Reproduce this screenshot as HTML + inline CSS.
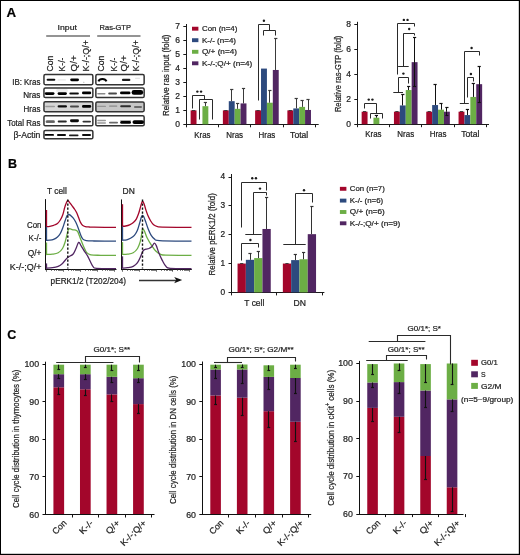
<!DOCTYPE html>
<html><head><meta charset="utf-8"><style>
html,body{margin:0;padding:0;background:#fff;overflow:hidden}
svg{display:block;will-change:transform}
text{font-family:"Liberation Sans", sans-serif;stroke:#222;stroke-width:0.22px;paint-order:stroke}
</style></head><body>
<svg width="520" height="555" viewBox="0 0 520 555" font-family='"Liberation Sans", sans-serif' fill="#222">
<rect x="0" y="0" width="520" height="555" fill="#000"/>
<rect x="1" y="1" width="517.8" height="552.8" fill="#fff"/>
<text x="6.5" y="17.2" font-size="12.5" font-weight="bold" textLength="9.6" lengthAdjust="spacingAndGlyphs" fill="#000">A</text>
<text x="8" y="167.9" font-size="12.5" font-weight="bold" fill="#000">B</text>
<text x="7.3" y="338.7" font-size="12.5" font-weight="bold" fill="#000">C</text>
<defs><filter id="bl" x="-20%" y="-100%" width="140%" height="300%"><feGaussianBlur stdDeviation="0.55"/></filter><filter id="bl2" x="-20%" y="-100%" width="140%" height="300%"><feGaussianBlur stdDeviation="0.7"/></filter></defs>
<text x="57.6" y="30.2" font-size="7.8" textLength="19.3" lengthAdjust="spacingAndGlyphs">Input</text>
<text x="99.6" y="30" font-size="7.7" textLength="31.4" lengthAdjust="spacingAndGlyphs">Ras-GTP</text>
<line x1="46.2" y1="36" x2="90" y2="36" stroke="#707070" stroke-width="1.6"/>
<line x1="97.2" y1="36" x2="140.5" y2="36" stroke="#707070" stroke-width="1.6"/>
<text x="53.4" y="71.4" font-size="8.5" textLength="15.8" lengthAdjust="spacingAndGlyphs" transform="rotate(-90 53.4 71.4)">Con</text>
<text x="64.6" y="71.4" font-size="8.5" textLength="13.8" lengthAdjust="spacingAndGlyphs" transform="rotate(-90 64.6 71.4)">K-/-</text>
<text x="76.9" y="71.4" font-size="8.5" textLength="16" lengthAdjust="spacingAndGlyphs" transform="rotate(-90 76.9 71.4)">Q/+</text>
<text x="89" y="71.4" font-size="8.5" textLength="31.2" lengthAdjust="spacingAndGlyphs" transform="rotate(-90 89 71.4)">K-/-;Q/+</text>
<text x="104.5" y="71.4" font-size="8.5" textLength="15.8" lengthAdjust="spacingAndGlyphs" transform="rotate(-90 104.5 71.4)">Con</text>
<text x="116.9" y="71.4" font-size="8.5" textLength="13.8" lengthAdjust="spacingAndGlyphs" transform="rotate(-90 116.9 71.4)">K-/-</text>
<text x="127.4" y="71.4" font-size="8.5" textLength="16" lengthAdjust="spacingAndGlyphs" transform="rotate(-90 127.4 71.4)">Q/+</text>
<text x="139.5" y="71.4" font-size="8.5" textLength="31.2" lengthAdjust="spacingAndGlyphs" transform="rotate(-90 139.5 71.4)">K-/-;Q/+</text>
<text x="40.4" y="85.1" font-size="8.3" text-anchor="end" textLength="28.2" lengthAdjust="spacingAndGlyphs">IB: Kras</text>
<text x="40.4" y="97.9" font-size="8.3" text-anchor="end" textLength="17.2" lengthAdjust="spacingAndGlyphs">Nras</text>
<text x="40.4" y="111.7" font-size="8.3" text-anchor="end" textLength="16.9" lengthAdjust="spacingAndGlyphs">Hras</text>
<text x="40.4" y="126.2" font-size="8.3" text-anchor="end" textLength="33.2" lengthAdjust="spacingAndGlyphs">Total Ras</text>
<text x="40.4" y="137.5" font-size="8.3" text-anchor="end" textLength="27" lengthAdjust="spacingAndGlyphs">β-Actin</text>
<rect x="43.95" y="74.55" width="48.9" height="10.1" rx="1.4" fill="#fff" stroke="#333" stroke-width="1.5"/>
<rect x="46.6" y="78.8" width="8.7" height="2" rx="1" fill="#111" filter="url(#bl)"/>
<rect x="57.5" y="79.2" width="8.5" height="1.4" rx="0.7" fill="#e8e8e8" filter="url(#bl)"/>
<rect x="70.2" y="78.45" width="8.8" height="2.7" rx="1.35" fill="#000" filter="url(#bl)"/>
<rect x="83" y="81.8" width="1.5" height="1" rx="0.5" fill="#bbb" filter="url(#bl)"/>
<rect x="43.95" y="88.05" width="48.9" height="9.5" rx="1.4" fill="#fff" stroke="#333" stroke-width="1.5"/>
<rect x="56" y="89.1" width="12" height="3" rx="1.5" fill="#eeeeee" filter="url(#bl2)"/>
<rect x="44.8" y="92.2" width="9.7" height="2.8" rx="1.4" fill="#000" filter="url(#bl)"/>
<rect x="57.6" y="92.3" width="9.3" height="2.6" rx="1.3" fill="#050505" filter="url(#bl)"/>
<rect x="69.3" y="92.4" width="9.6" height="2.2" rx="1.1" fill="#111" filter="url(#bl)"/>
<rect x="82" y="91.6" width="9.2" height="2.6" rx="1.3" fill="#000" filter="url(#bl)"/>
<rect x="43.95" y="101.65" width="48.9" height="10" rx="1.4" fill="#d6d6d6" stroke="#333" stroke-width="1.5"/>
<rect x="45.2" y="105.7" width="9.8" height="1.6" rx="0.8" fill="#9a9a9a" filter="url(#bl)"/>
<rect x="57.6" y="105.25" width="9.4" height="2.3" rx="1.15" fill="#111" filter="url(#bl)"/>
<rect x="70" y="105.55" width="9" height="1.9" rx="0.95" fill="#4a4a4a" filter="url(#bl)"/>
<rect x="82" y="105.1" width="9.2" height="2.6" rx="1.3" fill="#000" filter="url(#bl)"/>
<rect x="43.95" y="115.85" width="48.9" height="10" rx="1.4" fill="#fff" stroke="#333" stroke-width="1.5"/>
<rect x="45.6" y="119.9" width="9.4" height="3" rx="1.5" fill="#8a8a8a" filter="url(#bl2)"/>
<rect x="46" y="121.3" width="8.6" height="1.2" rx="0.6" fill="#555" filter="url(#bl)"/>
<rect x="57.7" y="120.6" width="9.1" height="1.8" rx="0.9" fill="#2a2a2a" filter="url(#bl)"/>
<rect x="70" y="119.35" width="9" height="2.9" rx="1.45" fill="#111" filter="url(#bl)"/>
<rect x="82.5" y="120.65" width="8.5" height="1.9" rx="0.95" fill="#333" filter="url(#bl)"/>
<rect x="43.95" y="130.45" width="48.9" height="8.4" rx="1.4" fill="#fff" stroke="#333" stroke-width="1.5"/>
<rect x="44.6" y="134" width="9.4" height="1.8" rx="0.9" fill="#000" filter="url(#bl)"/>
<rect x="57" y="134.1" width="9" height="1.8" rx="0.9" fill="#111" filter="url(#bl)"/>
<rect x="69" y="134.6" width="9.5" height="1.6" rx="0.8" fill="#1a1a1a" filter="url(#bl)"/>
<rect x="82" y="134.05" width="9" height="1.9" rx="0.95" fill="#111" filter="url(#bl)"/>
<rect x="95.85" y="74.55" width="48.3" height="10.1" rx="1.4" fill="#fff" stroke="#333" stroke-width="1.5"/>
<path d="M98.4,81.4 C99.6,78.2 105.2,78.2 106.5,81.4" fill="none" stroke="#000" stroke-width="2" filter="url(#bl)"/>
<rect x="121.9" y="78.75" width="8.5" height="2.3" rx="1.15" fill="#1c1c1c" filter="url(#bl)"/>
<rect x="135" y="77.7" width="5" height="1" rx="0.5" fill="#ddd" filter="url(#bl)"/>
<rect x="95.85" y="88.05" width="48.3" height="9.5" rx="1.4" fill="#fff" stroke="#333" stroke-width="1.5"/>
<rect x="97.2" y="93.05" width="8.3" height="1.5" rx="0.75" fill="#8a8a8a" filter="url(#bl)"/>
<rect x="108.2" y="92.4" width="8.8" height="2" rx="1" fill="#4a4a4a" filter="url(#bl)"/>
<rect x="120" y="91.45" width="10.5" height="2.9" rx="1.45" fill="#000" filter="url(#bl)"/>
<rect x="131.6" y="90.1" width="11.6" height="4.6" rx="2.3" fill="#000" filter="url(#bl)"/>
<rect x="95.85" y="102.05" width="48.3" height="9.6" rx="1.4" fill="#c6c6c6" stroke="#333" stroke-width="1.5"/>
<rect x="97.2" y="105.7" width="8.8" height="1.4" rx="0.7" fill="#959595" filter="url(#bl)"/>
<rect x="109" y="105.4" width="8.4" height="1.4" rx="0.7" fill="#8a8a8a" filter="url(#bl)"/>
<rect x="120.2" y="105.25" width="10.8" height="1.9" rx="0.95" fill="#2e2e2e" filter="url(#bl)"/>
<rect x="134" y="106.1" width="8" height="1.8" rx="0.9" fill="#6a6a6a" filter="url(#bl)"/>
<rect x="95.85" y="115.85" width="48.3" height="10" rx="1.4" fill="#fff" stroke="#333" stroke-width="1.5"/>
<rect x="97.2" y="119.85" width="8.8" height="1.3" rx="0.65" fill="#999" filter="url(#bl)"/>
<rect x="97.2" y="122.35" width="8.8" height="1.3" rx="0.65" fill="#999" filter="url(#bl)"/>
<rect x="109" y="121.75" width="9" height="1.7" rx="0.85" fill="#6a6a6a" filter="url(#bl)"/>
<rect x="120.2" y="119.9" width="10.8" height="1" rx="0.5" fill="#aaa" filter="url(#bl)"/>
<rect x="120.2" y="121.1" width="10.8" height="2.6" rx="1.3" fill="#000" filter="url(#bl)"/>
<rect x="132.5" y="120.15" width="11.5" height="3.9" rx="1.95" fill="#000" filter="url(#bl)"/>
<line x1="186.5" y1="24" x2="186.5" y2="124.8" stroke="#1a1a1a" stroke-width="1"/>
<line x1="185.8" y1="124.5" x2="318.7" y2="124.5" stroke="#1a1a1a" stroke-width="1"/>
<line x1="183.3" y1="124.5" x2="186.3" y2="124.5" stroke="#1a1a1a" stroke-width="1"/>
<text x="180.1" y="126.7" font-size="8.5" text-anchor="end">0</text>
<line x1="183.3" y1="110.5" x2="186.3" y2="110.5" stroke="#1a1a1a" stroke-width="1"/>
<text x="180.1" y="112.77" font-size="8.5" text-anchor="end">1</text>
<line x1="183.3" y1="96.5" x2="186.3" y2="96.5" stroke="#1a1a1a" stroke-width="1"/>
<text x="180.1" y="98.84" font-size="8.5" text-anchor="end">2</text>
<line x1="183.3" y1="82.5" x2="186.3" y2="82.5" stroke="#1a1a1a" stroke-width="1"/>
<text x="180.1" y="84.91" font-size="8.5" text-anchor="end">3</text>
<line x1="183.3" y1="68.5" x2="186.3" y2="68.5" stroke="#1a1a1a" stroke-width="1"/>
<text x="180.1" y="70.98" font-size="8.5" text-anchor="end">4</text>
<line x1="183.3" y1="54.5" x2="186.3" y2="54.5" stroke="#1a1a1a" stroke-width="1"/>
<text x="180.1" y="57.05" font-size="8.5" text-anchor="end">5</text>
<line x1="183.3" y1="40.5" x2="186.3" y2="40.5" stroke="#1a1a1a" stroke-width="1"/>
<text x="180.1" y="43.12" font-size="8.5" text-anchor="end">6</text>
<line x1="183.3" y1="26.5" x2="186.3" y2="26.5" stroke="#1a1a1a" stroke-width="1"/>
<text x="180.1" y="29.19" font-size="8.5" text-anchor="end">7</text>
<line x1="186.5" y1="124.3" x2="186.5" y2="127.3" stroke="#1a1a1a" stroke-width="1"/>
<line x1="218.5" y1="124.3" x2="218.5" y2="127.3" stroke="#1a1a1a" stroke-width="1"/>
<line x1="250.5" y1="124.3" x2="250.5" y2="127.3" stroke="#1a1a1a" stroke-width="1"/>
<line x1="283.5" y1="124.3" x2="283.5" y2="127.3" stroke="#1a1a1a" stroke-width="1"/>
<line x1="315.5" y1="124.3" x2="315.5" y2="127.3" stroke="#1a1a1a" stroke-width="1"/>
<rect x="190.62" y="110.37" width="5.9" height="13.93" fill="#a3062b"/>
<rect x="202.43" y="106.19" width="5.9" height="18.11" fill="#6cae45"/>
<line x1="191.97" y1="110.5" x2="195.17" y2="110.5" stroke="#333" stroke-width="0.9"/>
<line x1="205.5" y1="106.19" x2="205.5" y2="102.99" stroke="#3a3a3a" stroke-width="1"/>
<line x1="203.78" y1="102.5" x2="206.97" y2="102.5" stroke="#3a3a3a" stroke-width="1.2"/>
<rect x="222.88" y="110.37" width="5.9" height="13.93" fill="#a3062b"/>
<rect x="228.78" y="101.18" width="5.9" height="23.12" fill="#2d4a7e"/>
<rect x="234.68" y="108.84" width="5.9" height="15.46" fill="#6cae45"/>
<rect x="240.57" y="103.41" width="5.9" height="20.89" fill="#512662"/>
<line x1="224.22" y1="110.5" x2="227.42" y2="110.5" stroke="#333" stroke-width="0.9"/>
<line x1="231.5" y1="101.18" x2="231.5" y2="89.61" stroke="#3a3a3a" stroke-width="1"/>
<line x1="230.12" y1="89.5" x2="233.32" y2="89.5" stroke="#3a3a3a" stroke-width="1.2"/>
<line x1="237.5" y1="108.84" x2="237.5" y2="103.41" stroke="#3a3a3a" stroke-width="1"/>
<line x1="236.03" y1="103.5" x2="239.22" y2="103.5" stroke="#3a3a3a" stroke-width="1.2"/>
<line x1="243.5" y1="103.41" x2="243.5" y2="88.36" stroke="#3a3a3a" stroke-width="1"/>
<line x1="241.92" y1="88.5" x2="245.12" y2="88.5" stroke="#3a3a3a" stroke-width="1.2"/>
<rect x="255.12" y="110.37" width="5.9" height="13.93" fill="#a3062b"/>
<rect x="261.02" y="68.58" width="5.9" height="55.72" fill="#2d4a7e"/>
<rect x="266.93" y="102.71" width="5.9" height="21.59" fill="#6cae45"/>
<rect x="272.82" y="69.97" width="5.9" height="54.33" fill="#512662"/>
<line x1="256.47" y1="110.5" x2="259.68" y2="110.5" stroke="#333" stroke-width="0.9"/>
<line x1="269.5" y1="102.71" x2="269.5" y2="90.17" stroke="#3a3a3a" stroke-width="1"/>
<line x1="268.27" y1="90.5" x2="271.48" y2="90.5" stroke="#3a3a3a" stroke-width="1.2"/>
<line x1="275.5" y1="69.97" x2="275.5" y2="38.63" stroke="#3a3a3a" stroke-width="1"/>
<line x1="274.17" y1="38.5" x2="277.38" y2="38.5" stroke="#3a3a3a" stroke-width="1.2"/>
<rect x="287.38" y="110.37" width="5.9" height="13.93" fill="#a3062b"/>
<rect x="293.27" y="108.42" width="5.9" height="15.88" fill="#2d4a7e"/>
<rect x="299.18" y="106.89" width="5.9" height="17.41" fill="#6cae45"/>
<rect x="305.07" y="109.95" width="5.9" height="14.35" fill="#512662"/>
<line x1="288.72" y1="110.5" x2="291.93" y2="110.5" stroke="#333" stroke-width="0.9"/>
<line x1="296.5" y1="108.42" x2="296.5" y2="98.25" stroke="#3a3a3a" stroke-width="1"/>
<line x1="294.62" y1="98.5" x2="297.82" y2="98.5" stroke="#3a3a3a" stroke-width="1.2"/>
<line x1="302.5" y1="106.89" x2="302.5" y2="100.06" stroke="#3a3a3a" stroke-width="1"/>
<line x1="300.52" y1="100.5" x2="303.73" y2="100.5" stroke="#3a3a3a" stroke-width="1.2"/>
<line x1="308.5" y1="109.95" x2="308.5" y2="99.09" stroke="#3a3a3a" stroke-width="1"/>
<line x1="306.42" y1="99.5" x2="309.62" y2="99.5" stroke="#3a3a3a" stroke-width="1.2"/>
<text x="202.43" y="137.5" font-size="8.4" text-anchor="middle" textLength="16.2" lengthAdjust="spacingAndGlyphs">Kras</text>
<text x="234.68" y="137.5" font-size="8.4" text-anchor="middle" textLength="16.8" lengthAdjust="spacingAndGlyphs">Nras</text>
<text x="266.93" y="137.5" font-size="8.4" text-anchor="middle" textLength="16.8" lengthAdjust="spacingAndGlyphs">Hras</text>
<text x="299.18" y="137.5" font-size="8.4" text-anchor="middle" textLength="18.1" lengthAdjust="spacingAndGlyphs">Total</text>
<text x="169.4" y="75.3" font-size="9.8" text-anchor="middle" textLength="81.6" lengthAdjust="spacingAndGlyphs" transform="rotate(-90 169.4 75.3)">Relative ras input (fold)</text>
<rect x="192" y="26.75" width="6.4" height="3.9" fill="#a3062b"/>
<text x="202" y="31" font-size="8" textLength="35.4" lengthAdjust="spacingAndGlyphs">Con (n=4)</text>
<rect x="192" y="38.25" width="6.4" height="3.9" fill="#2d4a7e"/>
<text x="202" y="42.5" font-size="8" textLength="34" lengthAdjust="spacingAndGlyphs">K-/- (n=4)</text>
<rect x="192" y="49.85" width="6.4" height="3.9" fill="#6cae45"/>
<text x="202" y="54.1" font-size="8" textLength="34.9" lengthAdjust="spacingAndGlyphs">Q/+ (n=4)</text>
<rect x="192" y="61.35" width="6.4" height="3.9" fill="#512662"/>
<text x="202" y="65.6" font-size="8" textLength="50.2" lengthAdjust="spacingAndGlyphs">K-/-;Q/+ (n=4)</text>
<polyline points="192.5,108.5 192.5,95.5 204.5,95.5 204.5,99.5" fill="none" stroke="#2a2a2a" stroke-width="1"/>
<polyline points="199.5,119.5 199.5,99.5 212.5,99.5 212.5,119.5" fill="none" stroke="#2a2a2a" stroke-width="1"/>
<circle cx="197.35" cy="91.6" r="1.2" fill="#1a1a1a"/>
<circle cx="201.05" cy="91.6" r="1.2" fill="#1a1a1a"/>
<polyline points="258.5,100.5 258.5,24.5 269.5,24.5 269.5,30.5" fill="none" stroke="#2a2a2a" stroke-width="1"/>
<polyline points="263.5,35.5 263.5,30.5 275.5,30.5 275.5,35.5" fill="none" stroke="#2a2a2a" stroke-width="1"/>
<circle cx="263.9" cy="20.7" r="1.2" fill="#1a1a1a"/>
<line x1="357.5" y1="21.8" x2="357.5" y2="124.7" stroke="#1a1a1a" stroke-width="1"/>
<line x1="356.8" y1="124.5" x2="489" y2="124.5" stroke="#1a1a1a" stroke-width="1"/>
<line x1="354.3" y1="124.5" x2="357.3" y2="124.5" stroke="#1a1a1a" stroke-width="1"/>
<text x="351.1" y="126.6" font-size="8.5" text-anchor="end">0</text>
<line x1="354.3" y1="99.5" x2="357.3" y2="99.5" stroke="#1a1a1a" stroke-width="1"/>
<text x="351.1" y="101.58" font-size="8.5" text-anchor="end">2</text>
<line x1="354.3" y1="74.5" x2="357.3" y2="74.5" stroke="#1a1a1a" stroke-width="1"/>
<text x="351.1" y="76.56" font-size="8.5" text-anchor="end">4</text>
<line x1="354.3" y1="49.5" x2="357.3" y2="49.5" stroke="#1a1a1a" stroke-width="1"/>
<text x="351.1" y="51.54" font-size="8.5" text-anchor="end">6</text>
<line x1="354.3" y1="24.5" x2="357.3" y2="24.5" stroke="#1a1a1a" stroke-width="1"/>
<text x="351.1" y="26.52" font-size="8.5" text-anchor="end">8</text>
<line x1="357.5" y1="124.2" x2="357.5" y2="127.2" stroke="#1a1a1a" stroke-width="1"/>
<line x1="389.5" y1="124.2" x2="389.5" y2="127.2" stroke="#1a1a1a" stroke-width="1"/>
<line x1="421.5" y1="124.2" x2="421.5" y2="127.2" stroke="#1a1a1a" stroke-width="1"/>
<line x1="454.5" y1="124.2" x2="454.5" y2="127.2" stroke="#1a1a1a" stroke-width="1"/>
<line x1="486.5" y1="124.2" x2="486.5" y2="127.2" stroke="#1a1a1a" stroke-width="1"/>
<rect x="361.65" y="111.69" width="5.9" height="12.51" fill="#a3062b"/>
<rect x="373.45" y="117.69" width="5.9" height="6.51" fill="#6cae45"/>
<line x1="363" y1="111.5" x2="366.2" y2="111.5" stroke="#333" stroke-width="0.9"/>
<line x1="376.5" y1="117.69" x2="376.5" y2="115.44" stroke="#111" stroke-width="1"/>
<line x1="374.8" y1="115.5" x2="378" y2="115.5" stroke="#111" stroke-width="1.2"/>
<rect x="393.95" y="111.69" width="5.9" height="12.51" fill="#a3062b"/>
<rect x="399.85" y="105.44" width="5.9" height="18.77" fill="#2d4a7e"/>
<rect x="405.75" y="90.05" width="5.9" height="34.15" fill="#6cae45"/>
<rect x="411.65" y="62.15" width="5.9" height="62.05" fill="#512662"/>
<line x1="395.3" y1="111.5" x2="398.5" y2="111.5" stroke="#333" stroke-width="0.9"/>
<line x1="402.5" y1="105.44" x2="402.5" y2="94.3" stroke="#111" stroke-width="1"/>
<line x1="401.2" y1="94.5" x2="404.4" y2="94.5" stroke="#111" stroke-width="1.2"/>
<line x1="408.5" y1="90.05" x2="408.5" y2="86.92" stroke="#111" stroke-width="1"/>
<line x1="407.1" y1="86.5" x2="410.3" y2="86.5" stroke="#111" stroke-width="1.2"/>
<line x1="414.5" y1="62.15" x2="414.5" y2="37.88" stroke="#111" stroke-width="1"/>
<line x1="413" y1="37.5" x2="416.2" y2="37.5" stroke="#111" stroke-width="1.2"/>
<line x1="414.5" y1="62.15" x2="414.5" y2="86.54" stroke="#111" stroke-width="1"/>
<line x1="413.1" y1="86.5" x2="416.1" y2="86.5" stroke="#111" stroke-width="1.1"/>
<rect x="426.25" y="111.69" width="5.9" height="12.51" fill="#a3062b"/>
<rect x="432.15" y="105.06" width="5.9" height="19.14" fill="#2d4a7e"/>
<rect x="438.05" y="109.69" width="5.9" height="14.51" fill="#6cae45"/>
<rect x="443.95" y="111.69" width="5.9" height="12.51" fill="#512662"/>
<line x1="427.6" y1="111.5" x2="430.8" y2="111.5" stroke="#333" stroke-width="0.9"/>
<line x1="435.5" y1="105.06" x2="435.5" y2="84.92" stroke="#111" stroke-width="1"/>
<line x1="433.5" y1="84.5" x2="436.7" y2="84.5" stroke="#111" stroke-width="1.2"/>
<line x1="441.5" y1="109.69" x2="441.5" y2="103.68" stroke="#111" stroke-width="1"/>
<line x1="439.4" y1="103.5" x2="442.6" y2="103.5" stroke="#111" stroke-width="1.2"/>
<line x1="446.5" y1="111.69" x2="446.5" y2="107.31" stroke="#111" stroke-width="1"/>
<line x1="445.3" y1="107.5" x2="448.5" y2="107.5" stroke="#111" stroke-width="1.2"/>
<line x1="446.5" y1="111.69" x2="446.5" y2="115.82" stroke="#111" stroke-width="1"/>
<line x1="445.4" y1="115.5" x2="448.4" y2="115.5" stroke="#111" stroke-width="1.1"/>
<rect x="458.55" y="111.69" width="5.9" height="12.51" fill="#a3062b"/>
<rect x="464.45" y="115.07" width="5.9" height="9.13" fill="#2d4a7e"/>
<rect x="470.35" y="96.93" width="5.9" height="27.27" fill="#6cae45"/>
<rect x="476.25" y="84.17" width="5.9" height="40.03" fill="#512662"/>
<line x1="459.9" y1="111.5" x2="463.1" y2="111.5" stroke="#333" stroke-width="0.9"/>
<line x1="467.5" y1="115.07" x2="467.5" y2="109.44" stroke="#111" stroke-width="1"/>
<line x1="465.8" y1="109.5" x2="469" y2="109.5" stroke="#111" stroke-width="1.2"/>
<line x1="473.5" y1="96.93" x2="473.5" y2="83.17" stroke="#111" stroke-width="1"/>
<line x1="471.7" y1="83.5" x2="474.9" y2="83.5" stroke="#111" stroke-width="1.2"/>
<line x1="479.5" y1="84.17" x2="479.5" y2="66.03" stroke="#111" stroke-width="1"/>
<line x1="477.6" y1="66.5" x2="480.8" y2="66.5" stroke="#111" stroke-width="1.2"/>
<line x1="479.5" y1="84.17" x2="479.5" y2="102.31" stroke="#111" stroke-width="1"/>
<line x1="477.7" y1="102.5" x2="480.7" y2="102.5" stroke="#111" stroke-width="1.1"/>
<text x="373.45" y="137.4" font-size="8.4" text-anchor="middle" textLength="16.2" lengthAdjust="spacingAndGlyphs">Kras</text>
<text x="405.75" y="137.4" font-size="8.4" text-anchor="middle" textLength="16.8" lengthAdjust="spacingAndGlyphs">Nras</text>
<text x="438.05" y="137.4" font-size="8.4" text-anchor="middle" textLength="16.8" lengthAdjust="spacingAndGlyphs">Hras</text>
<text x="470.35" y="137.4" font-size="8.4" text-anchor="middle" textLength="18.1" lengthAdjust="spacingAndGlyphs">Total</text>
<text x="340.7" y="73.9" font-size="9.8" text-anchor="middle" textLength="76.4" lengthAdjust="spacingAndGlyphs" transform="rotate(-90 340.7 73.9)">Relative ras-GTP (fold)</text>
<polyline points="364.5,108.5 364.5,103.5 376.5,103.5 376.5,113.5" fill="none" stroke="#2a2a2a" stroke-width="1"/>
<polyline points="370.5,118.5 370.5,113.5 382.5,113.5 382.5,118.5" fill="none" stroke="#2a2a2a" stroke-width="1"/>
<circle cx="368.75" cy="99.6" r="1.2" fill="#1a1a1a"/>
<circle cx="372.45" cy="99.6" r="1.2" fill="#1a1a1a"/>
<polyline points="397.5,74.5 397.5,23.5 414.5,23.5 414.5,26.5" fill="none" stroke="#2a2a2a" stroke-width="1"/>
<circle cx="403.85" cy="19.9" r="1.2" fill="#1a1a1a"/>
<circle cx="407.55" cy="19.9" r="1.2" fill="#1a1a1a"/>
<polyline points="403.5,66.5 403.5,33.5 414.5,33.5 414.5,35.5" fill="none" stroke="#2a2a2a" stroke-width="1"/>
<line x1="398.1" y1="66.5" x2="408.7" y2="66.5" stroke="#2a2a2a" stroke-width="1"/>
<circle cx="409.2" cy="29" r="1.2" fill="#1a1a1a"/>
<polyline points="398.5,92.5 398.5,77.5 408.5,77.5 408.5,83.5" fill="none" stroke="#2a2a2a" stroke-width="1"/>
<line x1="393.3" y1="92.5" x2="403" y2="92.5" stroke="#2a2a2a" stroke-width="1"/>
<circle cx="403.4" cy="73.6" r="1.2" fill="#1a1a1a"/>
<polyline points="464.5,103.5 464.5,51.5 479.5,51.5 479.5,55.5" fill="none" stroke="#2a2a2a" stroke-width="1"/>
<line x1="459.8" y1="103.5" x2="468.8" y2="103.5" stroke="#2a2a2a" stroke-width="1"/>
<circle cx="471.6" cy="48" r="1.2" fill="#1a1a1a"/>
<polyline points="467.5,97.5 467.5,77.5 473.5,77.5 473.5,81.5" fill="none" stroke="#2a2a2a" stroke-width="1"/>
<circle cx="470.9" cy="74" r="1.2" fill="#1a1a1a"/>
<text x="47" y="194" font-size="8.2" textLength="19.8" lengthAdjust="spacingAndGlyphs">T cell</text>
<text x="122.6" y="193.9" font-size="8.3" textLength="12.2" lengthAdjust="spacingAndGlyphs">DN</text>
<text x="41.4" y="227.9" font-size="8.6" text-anchor="end" textLength="14.4" lengthAdjust="spacingAndGlyphs">Con</text>
<text x="41.4" y="241.4" font-size="8.6" text-anchor="end" textLength="12.8" lengthAdjust="spacingAndGlyphs">K-/-</text>
<text x="41.4" y="256.1" font-size="8.6" text-anchor="end" textLength="13.7" lengthAdjust="spacingAndGlyphs">Q/+</text>
<text x="41.4" y="270.4" font-size="8.6" text-anchor="end" textLength="31.6" lengthAdjust="spacingAndGlyphs">K-/-;Q/+</text>
<line x1="45.5" y1="199.1" x2="45.5" y2="270.1" stroke="#111" stroke-width="1"/>
<line x1="45.2" y1="269.5" x2="116.5" y2="269.5" stroke="#111" stroke-width="1"/>
<line x1="46.5" y1="269.6" x2="46.5" y2="271.8" stroke="#333" stroke-width="0.7"/>
<line x1="51.5" y1="269.6" x2="51.5" y2="270.9" stroke="#333" stroke-width="0.7"/>
<line x1="54.5" y1="269.6" x2="54.5" y2="270.9" stroke="#333" stroke-width="0.7"/>
<line x1="56.5" y1="269.6" x2="56.5" y2="270.9" stroke="#333" stroke-width="0.7"/>
<line x1="58.5" y1="269.6" x2="58.5" y2="270.9" stroke="#333" stroke-width="0.7"/>
<line x1="59.5" y1="269.6" x2="59.5" y2="270.9" stroke="#333" stroke-width="0.7"/>
<line x1="60.5" y1="269.6" x2="60.5" y2="270.9" stroke="#333" stroke-width="0.7"/>
<line x1="61.5" y1="269.6" x2="61.5" y2="270.9" stroke="#333" stroke-width="0.7"/>
<line x1="62.5" y1="269.6" x2="62.5" y2="270.9" stroke="#333" stroke-width="0.7"/>
<line x1="63.5" y1="269.6" x2="63.5" y2="271.8" stroke="#333" stroke-width="0.7"/>
<line x1="68.5" y1="269.6" x2="68.5" y2="270.9" stroke="#333" stroke-width="0.7"/>
<line x1="71.5" y1="269.6" x2="71.5" y2="270.9" stroke="#333" stroke-width="0.7"/>
<line x1="73.5" y1="269.6" x2="73.5" y2="270.9" stroke="#333" stroke-width="0.7"/>
<line x1="75.5" y1="269.6" x2="75.5" y2="270.9" stroke="#333" stroke-width="0.7"/>
<line x1="76.5" y1="269.6" x2="76.5" y2="270.9" stroke="#333" stroke-width="0.7"/>
<line x1="77.5" y1="269.6" x2="77.5" y2="270.9" stroke="#333" stroke-width="0.7"/>
<line x1="78.5" y1="269.6" x2="78.5" y2="270.9" stroke="#333" stroke-width="0.7"/>
<line x1="79.5" y1="269.6" x2="79.5" y2="270.9" stroke="#333" stroke-width="0.7"/>
<line x1="80.5" y1="269.6" x2="80.5" y2="271.8" stroke="#333" stroke-width="0.7"/>
<line x1="85.5" y1="269.6" x2="85.5" y2="270.9" stroke="#333" stroke-width="0.7"/>
<line x1="88.5" y1="269.6" x2="88.5" y2="270.9" stroke="#333" stroke-width="0.7"/>
<line x1="90.5" y1="269.6" x2="90.5" y2="270.9" stroke="#333" stroke-width="0.7"/>
<line x1="92.5" y1="269.6" x2="92.5" y2="270.9" stroke="#333" stroke-width="0.7"/>
<line x1="93.5" y1="269.6" x2="93.5" y2="270.9" stroke="#333" stroke-width="0.7"/>
<line x1="94.5" y1="269.6" x2="94.5" y2="270.9" stroke="#333" stroke-width="0.7"/>
<line x1="95.5" y1="269.6" x2="95.5" y2="270.9" stroke="#333" stroke-width="0.7"/>
<line x1="96.5" y1="269.6" x2="96.5" y2="270.9" stroke="#333" stroke-width="0.7"/>
<line x1="97.5" y1="269.6" x2="97.5" y2="271.8" stroke="#333" stroke-width="0.7"/>
<line x1="102.5" y1="269.6" x2="102.5" y2="270.9" stroke="#333" stroke-width="0.7"/>
<line x1="105.5" y1="269.6" x2="105.5" y2="270.9" stroke="#333" stroke-width="0.7"/>
<line x1="107.5" y1="269.6" x2="107.5" y2="270.9" stroke="#333" stroke-width="0.7"/>
<line x1="109.5" y1="269.6" x2="109.5" y2="270.9" stroke="#333" stroke-width="0.7"/>
<line x1="110.5" y1="269.6" x2="110.5" y2="270.9" stroke="#333" stroke-width="0.7"/>
<line x1="111.5" y1="269.6" x2="111.5" y2="270.9" stroke="#333" stroke-width="0.7"/>
<line x1="112.5" y1="269.6" x2="112.5" y2="270.9" stroke="#333" stroke-width="0.7"/>
<line x1="113.5" y1="269.6" x2="113.5" y2="270.9" stroke="#333" stroke-width="0.7"/>
<line x1="114.5" y1="269.6" x2="114.5" y2="271.8" stroke="#333" stroke-width="0.7"/>
<line x1="121.5" y1="199.4" x2="121.5" y2="270.1" stroke="#111" stroke-width="1"/>
<line x1="121.2" y1="269.5" x2="191.8" y2="269.5" stroke="#111" stroke-width="1"/>
<line x1="122.5" y1="269.6" x2="122.5" y2="271.8" stroke="#333" stroke-width="0.7"/>
<line x1="127.5" y1="269.6" x2="127.5" y2="270.9" stroke="#333" stroke-width="0.7"/>
<line x1="130.5" y1="269.6" x2="130.5" y2="270.9" stroke="#333" stroke-width="0.7"/>
<line x1="132.5" y1="269.6" x2="132.5" y2="270.9" stroke="#333" stroke-width="0.7"/>
<line x1="134.5" y1="269.6" x2="134.5" y2="270.9" stroke="#333" stroke-width="0.7"/>
<line x1="135.5" y1="269.6" x2="135.5" y2="270.9" stroke="#333" stroke-width="0.7"/>
<line x1="136.5" y1="269.6" x2="136.5" y2="270.9" stroke="#333" stroke-width="0.7"/>
<line x1="137.5" y1="269.6" x2="137.5" y2="270.9" stroke="#333" stroke-width="0.7"/>
<line x1="138.5" y1="269.6" x2="138.5" y2="270.9" stroke="#333" stroke-width="0.7"/>
<line x1="139.5" y1="269.6" x2="139.5" y2="271.8" stroke="#333" stroke-width="0.7"/>
<line x1="144.5" y1="269.6" x2="144.5" y2="270.9" stroke="#333" stroke-width="0.7"/>
<line x1="147.5" y1="269.6" x2="147.5" y2="270.9" stroke="#333" stroke-width="0.7"/>
<line x1="149.5" y1="269.6" x2="149.5" y2="270.9" stroke="#333" stroke-width="0.7"/>
<line x1="151.5" y1="269.6" x2="151.5" y2="270.9" stroke="#333" stroke-width="0.7"/>
<line x1="152.5" y1="269.6" x2="152.5" y2="270.9" stroke="#333" stroke-width="0.7"/>
<line x1="153.5" y1="269.6" x2="153.5" y2="270.9" stroke="#333" stroke-width="0.7"/>
<line x1="154.5" y1="269.6" x2="154.5" y2="270.9" stroke="#333" stroke-width="0.7"/>
<line x1="155.5" y1="269.6" x2="155.5" y2="270.9" stroke="#333" stroke-width="0.7"/>
<line x1="156.5" y1="269.6" x2="156.5" y2="271.8" stroke="#333" stroke-width="0.7"/>
<line x1="161.5" y1="269.6" x2="161.5" y2="270.9" stroke="#333" stroke-width="0.7"/>
<line x1="164.5" y1="269.6" x2="164.5" y2="270.9" stroke="#333" stroke-width="0.7"/>
<line x1="166.5" y1="269.6" x2="166.5" y2="270.9" stroke="#333" stroke-width="0.7"/>
<line x1="167.5" y1="269.6" x2="167.5" y2="270.9" stroke="#333" stroke-width="0.7"/>
<line x1="169.5" y1="269.6" x2="169.5" y2="270.9" stroke="#333" stroke-width="0.7"/>
<line x1="170.5" y1="269.6" x2="170.5" y2="270.9" stroke="#333" stroke-width="0.7"/>
<line x1="171.5" y1="269.6" x2="171.5" y2="270.9" stroke="#333" stroke-width="0.7"/>
<line x1="172.5" y1="269.6" x2="172.5" y2="270.9" stroke="#333" stroke-width="0.7"/>
<line x1="172.5" y1="269.6" x2="172.5" y2="271.8" stroke="#333" stroke-width="0.7"/>
<line x1="177.5" y1="269.6" x2="177.5" y2="270.9" stroke="#333" stroke-width="0.7"/>
<line x1="180.5" y1="269.6" x2="180.5" y2="270.9" stroke="#333" stroke-width="0.7"/>
<line x1="182.5" y1="269.6" x2="182.5" y2="270.9" stroke="#333" stroke-width="0.7"/>
<line x1="184.5" y1="269.6" x2="184.5" y2="270.9" stroke="#333" stroke-width="0.7"/>
<line x1="185.5" y1="269.6" x2="185.5" y2="270.9" stroke="#333" stroke-width="0.7"/>
<line x1="186.5" y1="269.6" x2="186.5" y2="270.9" stroke="#333" stroke-width="0.7"/>
<line x1="187.5" y1="269.6" x2="187.5" y2="270.9" stroke="#333" stroke-width="0.7"/>
<line x1="188.5" y1="269.6" x2="188.5" y2="270.9" stroke="#333" stroke-width="0.7"/>
<line x1="189.5" y1="269.6" x2="189.5" y2="271.8" stroke="#333" stroke-width="0.7"/>
<path d="M46.1,226.6 C46.72,226.55 48.55,226.52 49.8,226.3 C51.05,226.08 52.32,225.78 53.6,225.3 C54.88,224.82 56.38,224.28 57.5,223.4 C58.62,222.52 59.42,221.43 60.3,220 C61.18,218.57 62.07,216.88 62.8,214.8 C63.53,212.72 64.07,209.58 64.7,207.5 C65.33,205.42 66.08,203.48 66.6,202.3 C67.12,201.12 67.32,200.4 67.8,200.4 C68.28,200.4 68.82,201.43 69.5,202.3 C70.18,203.17 71.02,204.4 71.9,205.6 C72.78,206.8 74,208.3 74.8,209.5 C75.6,210.7 76.07,211.45 76.7,212.8 C77.33,214.15 77.97,216 78.6,217.6 C79.23,219.2 79.85,221.12 80.5,222.4 C81.15,223.68 81.7,224.6 82.5,225.3 C83.3,226 84.18,226.32 85.3,226.6 C86.42,226.88 87.75,226.9 89.2,227 C90.65,227.1 89.53,227.13 94,227.2 C98.47,227.27 112.33,227.37 116,227.4" fill="none" stroke="#a3062b" stroke-width="1.3" stroke-linejoin="round"/>
<line x1="46.5" y1="210" x2="46.5" y2="227.1" stroke="#a3062b" stroke-width="1.3"/>
<path d="M46.1,240.4 C46.72,240.37 48.55,240.38 49.8,240.2 C51.05,240.02 52.32,239.85 53.6,239.3 C54.88,238.75 56.38,237.87 57.5,236.9 C58.62,235.93 59.42,235.03 60.3,233.5 C61.18,231.97 61.98,229.87 62.8,227.7 C63.62,225.53 64.48,222.5 65.2,220.5 C65.92,218.5 66.5,216.7 67.1,215.7 C67.7,214.7 68.17,214.5 68.8,214.5 C69.43,214.5 70.15,215.1 70.9,215.7 C71.65,216.3 72.5,217.05 73.3,218.1 C74.1,219.15 74.9,220.4 75.7,222 C76.5,223.6 77.3,225.62 78.1,227.7 C78.9,229.78 79.7,232.6 80.5,234.5 C81.3,236.4 81.93,238.08 82.9,239.1 C83.87,240.12 84.45,240.28 86.3,240.6 C88.15,240.92 89.05,240.9 94,241 C98.95,241.1 112.33,241.17 116,241.2" fill="none" stroke="#2d4a7e" stroke-width="1.3" stroke-linejoin="round"/>
<line x1="46.5" y1="226.8" x2="46.5" y2="240.9" stroke="#2d4a7e" stroke-width="1.3"/>
<path d="M46.1,254.5 C47.17,254.45 50.48,254.48 52.5,254.2 C54.52,253.92 56.53,253.75 58.2,252.8 C59.87,251.85 61.32,250.4 62.5,248.5 C63.68,246.6 64.5,243.93 65.3,241.4 C66.1,238.87 66.75,235.33 67.3,233.3 C67.85,231.27 68.08,229.93 68.6,229.2 C69.12,228.47 69.7,228.8 70.4,228.9 C71.1,229 71.92,229.6 72.8,229.8 C73.68,230 74.88,229.8 75.7,230.1 C76.52,230.4 77.1,230.7 77.7,231.6 C78.3,232.5 78.75,234.1 79.3,235.5 C79.85,236.9 80.25,238.08 81,240 C81.75,241.92 82.85,244.9 83.8,247 C84.75,249.1 85.52,251.28 86.7,252.6 C87.88,253.92 88.53,254.45 90.9,254.9 C93.27,255.35 96.72,255.22 100.9,255.3 C105.08,255.38 113.48,255.38 116,255.4" fill="none" stroke="#6cae45" stroke-width="1.3" stroke-linejoin="round"/>
<line x1="46.5" y1="242.5" x2="46.5" y2="255" stroke="#6cae45" stroke-width="1.3"/>
<path d="M46.1,268.1 C47.17,268.03 50.48,268 52.5,267.7 C54.52,267.4 56.53,267.02 58.2,266.3 C59.87,265.58 61.07,264.72 62.5,263.4 C63.93,262.08 65.62,259.58 66.8,258.4 C67.98,257.22 68.53,257.03 69.6,256.3 C70.67,255.57 72.13,255.3 73.2,254 C74.27,252.7 75.1,250.43 76,248.5 C76.9,246.57 77.77,242.88 78.6,242.4 C79.43,241.92 80.02,244.12 81,245.6 C81.98,247.08 83.43,249.63 84.5,251.3 C85.57,252.97 86.45,253.93 87.4,255.6 C88.35,257.27 89.25,259.47 90.2,261.3 C91.15,263.13 92.03,265.43 93.1,266.6 C94.17,267.77 92.78,267.95 96.6,268.3 C100.42,268.65 112.77,268.63 116,268.7" fill="none" stroke="#512662" stroke-width="1.3" stroke-linejoin="round"/>
<line x1="46.5" y1="263.4" x2="46.5" y2="268.6" stroke="#512662" stroke-width="1.3"/>
<line x1="67.8" y1="199.5" x2="67.8" y2="268.5" stroke="#111" stroke-width="1.4" stroke-dasharray="2.2,1.8"/>
<path d="M122.4,226.3 C122.95,226.25 124.5,226.25 125.7,226 C126.9,225.75 128.32,225.4 129.6,224.8 C130.88,224.2 132.28,223.35 133.4,222.4 C134.52,221.45 135.42,220.62 136.3,219.1 C137.18,217.58 137.98,215.38 138.7,213.3 C139.42,211.22 140,208.58 140.6,206.6 C141.2,204.62 141.73,201.88 142.3,201.4 C142.87,200.92 143.4,202.27 144,203.7 C144.6,205.13 145.27,208.08 145.9,210 C146.53,211.92 147,213.37 147.8,215.2 C148.6,217.03 149.73,219.4 150.7,221 C151.67,222.6 152.47,223.87 153.6,224.8 C154.73,225.73 156.05,226.22 157.5,226.6 C158.95,226.98 156.63,226.97 162.3,227.1 C167.97,227.23 186.63,227.35 191.5,227.4" fill="none" stroke="#a3062b" stroke-width="1.3" stroke-linejoin="round"/>
<line x1="122.5" y1="204.2" x2="122.5" y2="226.8" stroke="#a3062b" stroke-width="1.3"/>
<path d="M122.4,240.2 C123.12,240.13 125.35,240.12 126.7,239.8 C128.05,239.48 129.22,239.03 130.5,238.3 C131.78,237.57 133.27,236.68 134.4,235.4 C135.53,234.12 136.42,232.68 137.3,230.6 C138.18,228.52 139.03,225.13 139.7,222.9 C140.37,220.67 140.85,218.47 141.3,217.2 C141.75,215.93 141.98,215.38 142.4,215.3 C142.82,215.22 143.22,215.52 143.8,216.7 C144.38,217.88 145.15,220.32 145.9,222.4 C146.65,224.48 147.42,227.03 148.3,229.2 C149.18,231.37 150.15,233.75 151.2,235.4 C152.25,237.05 153.23,238.23 154.6,239.1 C155.97,239.97 153.25,240.25 159.4,240.6 C165.55,240.95 186.15,241.1 191.5,241.2" fill="none" stroke="#2d4a7e" stroke-width="1.3" stroke-linejoin="round"/>
<line x1="122.5" y1="226.5" x2="122.5" y2="240.7" stroke="#2d4a7e" stroke-width="1.3"/>
<path d="M122.4,254.5 C123.25,254.45 125.7,254.48 127.5,254.2 C129.3,253.92 131.53,253.75 133.2,252.8 C134.87,251.85 136.32,250.4 137.5,248.5 C138.68,246.6 139.62,243.73 140.3,241.4 C140.98,239.07 141.22,236.57 141.6,234.5 C141.98,232.43 142.12,229.55 142.6,229 C143.08,228.45 143.73,229.7 144.5,231.2 C145.27,232.7 146,235.6 147.2,238 C148.4,240.4 150.23,243.38 151.7,245.6 C153.17,247.82 154.57,249.87 156,251.3 C157.43,252.73 158.65,253.55 160.3,254.2 C161.95,254.85 160.7,255 165.9,255.2 C171.1,255.4 187.23,255.37 191.5,255.4" fill="none" stroke="#6cae45" stroke-width="1.3" stroke-linejoin="round"/>
<line x1="122.5" y1="242.1" x2="122.5" y2="255" stroke="#6cae45" stroke-width="1.3"/>
<path d="M122.4,268.1 C123.25,268.03 125.7,268 127.5,267.7 C129.3,267.4 131.53,267.13 133.2,266.3 C134.87,265.47 136.2,264.48 137.5,262.7 C138.8,260.92 140.05,257.62 141,255.6 C141.95,253.58 142.37,251.67 143.2,250.6 C144.03,249.53 145.05,249.55 146,249.2 C146.95,248.85 147.95,248.9 148.9,248.5 C149.85,248.1 150.8,247.68 151.7,246.8 C152.6,245.92 153.53,243.4 154.3,243.2 C155.07,243 155.55,244 156.3,245.6 C157.05,247.2 157.78,250.3 158.8,252.8 C159.82,255.3 161.22,258.35 162.4,260.6 C163.58,262.85 164.6,265 165.9,266.3 C167.2,267.6 165.93,268 170.2,268.4 C174.47,268.8 187.95,268.65 191.5,268.7" fill="none" stroke="#512662" stroke-width="1.3" stroke-linejoin="round"/>
<line x1="122.5" y1="256.3" x2="122.5" y2="268.6" stroke="#512662" stroke-width="1.3"/>
<line x1="142.5" y1="199.5" x2="142.5" y2="268.5" stroke="#111" stroke-width="1.4" stroke-dasharray="2.2,1.8"/>
<text x="50.6" y="283.5" font-size="8.2" textLength="75.4" lengthAdjust="spacingAndGlyphs">pERK1/2 (T202/204)</text>
<line x1="139" y1="280.5" x2="176" y2="280.5" stroke="#333" stroke-width="1.3"/>
<path d="M182.2,280 L174.2,276.9 L176.2,280 L174.2,283.3 Z" fill="#111"/>
<line x1="231.5" y1="174" x2="231.5" y2="292.9" stroke="#1a1a1a" stroke-width="1"/>
<line x1="231" y1="292.5" x2="324.4" y2="292.5" stroke="#1a1a1a" stroke-width="1"/>
<line x1="228.5" y1="292.5" x2="231.5" y2="292.5" stroke="#1a1a1a" stroke-width="1"/>
<text x="225.2" y="294.7" font-size="8.3" text-anchor="end">0</text>
<line x1="228.5" y1="263.5" x2="231.5" y2="263.5" stroke="#1a1a1a" stroke-width="1"/>
<text x="225.2" y="265.87" font-size="8.3" text-anchor="end">1</text>
<line x1="228.5" y1="234.5" x2="231.5" y2="234.5" stroke="#1a1a1a" stroke-width="1"/>
<text x="225.2" y="237.04" font-size="8.3" text-anchor="end">2</text>
<line x1="228.5" y1="205.5" x2="231.5" y2="205.5" stroke="#1a1a1a" stroke-width="1"/>
<text x="225.2" y="208.21" font-size="8.3" text-anchor="end">3</text>
<line x1="228.5" y1="177.5" x2="231.5" y2="177.5" stroke="#1a1a1a" stroke-width="1"/>
<text x="225.2" y="179.38" font-size="8.3" text-anchor="end">4</text>
<line x1="231.5" y1="292.4" x2="231.5" y2="295.4" stroke="#1a1a1a" stroke-width="1"/>
<line x1="276.5" y1="292.4" x2="276.5" y2="295.4" stroke="#1a1a1a" stroke-width="1"/>
<line x1="322.5" y1="292.4" x2="322.5" y2="295.4" stroke="#1a1a1a" stroke-width="1"/>
<rect x="237.55" y="263.57" width="8.3" height="28.83" fill="#a3062b"/>
<rect x="245.85" y="259.82" width="8.3" height="32.58" fill="#2d4a7e"/>
<rect x="254.15" y="258.09" width="8.3" height="34.31" fill="#6cae45"/>
<rect x="262.45" y="228.97" width="8.3" height="63.43" fill="#512662"/>
<line x1="240.1" y1="263.5" x2="243.3" y2="263.5" stroke="#333" stroke-width="0.9"/>
<line x1="250.5" y1="259.82" x2="250.5" y2="253.19" stroke="#333" stroke-width="1"/>
<line x1="248.4" y1="253.5" x2="251.6" y2="253.5" stroke="#333" stroke-width="1.2"/>
<line x1="258.5" y1="258.09" x2="258.5" y2="251.61" stroke="#333" stroke-width="1"/>
<line x1="256.7" y1="251.5" x2="259.9" y2="251.5" stroke="#333" stroke-width="1.2"/>
<line x1="266.5" y1="228.97" x2="266.5" y2="197.69" stroke="#333" stroke-width="1"/>
<line x1="265" y1="197.5" x2="268.2" y2="197.5" stroke="#333" stroke-width="1.2"/>
<rect x="282.85" y="263.57" width="8.3" height="28.83" fill="#a3062b"/>
<rect x="291.15" y="260.11" width="8.3" height="32.29" fill="#2d4a7e"/>
<rect x="299.45" y="259.25" width="8.3" height="33.15" fill="#6cae45"/>
<rect x="307.75" y="234.16" width="8.3" height="58.24" fill="#512662"/>
<line x1="285.4" y1="263.5" x2="288.6" y2="263.5" stroke="#333" stroke-width="0.9"/>
<line x1="295.5" y1="260.11" x2="295.5" y2="254.34" stroke="#333" stroke-width="1"/>
<line x1="293.7" y1="254.5" x2="296.9" y2="254.5" stroke="#333" stroke-width="1.2"/>
<line x1="303.5" y1="259.25" x2="303.5" y2="252.61" stroke="#333" stroke-width="1"/>
<line x1="302" y1="252.5" x2="305.2" y2="252.5" stroke="#333" stroke-width="1.2"/>
<line x1="311.5" y1="234.16" x2="311.5" y2="206.49" stroke="#333" stroke-width="1"/>
<line x1="310.3" y1="206.5" x2="313.5" y2="206.5" stroke="#333" stroke-width="1.2"/>
<text x="254.3" y="306.2" font-size="8.2" text-anchor="middle" textLength="20" lengthAdjust="spacingAndGlyphs">T cell</text>
<text x="299.8" y="306.2" font-size="8.3" text-anchor="middle" textLength="12.4" lengthAdjust="spacingAndGlyphs">DN</text>
<text x="214.9" y="234.3" font-size="9.8" text-anchor="middle" textLength="82.4" lengthAdjust="spacingAndGlyphs" transform="rotate(-90 214.9 234.3)">Relative pERK1/2 (fold)</text>
<rect x="339.9" y="186.85" width="6.5" height="3.9" fill="#a3062b"/>
<text x="349.8" y="191.1" font-size="8" textLength="35" lengthAdjust="spacingAndGlyphs">Con (n=7)</text>
<rect x="339.9" y="198.65" width="6.5" height="3.9" fill="#2d4a7e"/>
<text x="349.8" y="202.9" font-size="8" textLength="33.3" lengthAdjust="spacingAndGlyphs">K-/- (n=6)</text>
<rect x="339.9" y="210.05" width="6.5" height="3.9" fill="#6cae45"/>
<text x="349.8" y="214.3" font-size="8" textLength="35" lengthAdjust="spacingAndGlyphs">Q/+ (n=6)</text>
<rect x="339.9" y="221.35" width="6.5" height="3.9" fill="#512662"/>
<text x="349.8" y="225.6" font-size="8" textLength="50.5" lengthAdjust="spacingAndGlyphs">K-/-;Q/+ (n=9)</text>
<polyline points="241.5,227.5 241.5,182.5 266.5,182.5 266.5,190.5" fill="none" stroke="#2a2a2a" stroke-width="1"/>
<circle cx="252.25" cy="178.2" r="1.2" fill="#1a1a1a"/>
<circle cx="255.95" cy="178.2" r="1.2" fill="#1a1a1a"/>
<polyline points="253.5,234.5 253.5,192.5 266.5,192.5 266.5,195.5" fill="none" stroke="#2a2a2a" stroke-width="1"/>
<line x1="245.3" y1="234.5" x2="261.7" y2="234.5" stroke="#2a2a2a" stroke-width="1"/>
<circle cx="260" cy="188.6" r="1.2" fill="#1a1a1a"/>
<polyline points="241.5,260.5 241.5,243.5 258.5,243.5 258.5,247.5" fill="none" stroke="#2a2a2a" stroke-width="1"/>
<circle cx="250.4" cy="240" r="1.2" fill="#1a1a1a"/>
<polyline points="295.5,244.5 295.5,193.5 312.5,193.5 312.5,202.5" fill="none" stroke="#2a2a2a" stroke-width="1"/>
<line x1="283.3" y1="244.5" x2="305.7" y2="244.5" stroke="#2a2a2a" stroke-width="1"/>
<circle cx="304" cy="190.3" r="1.2" fill="#1a1a1a"/>
<rect x="53.42" y="387.3" width="10.7" height="127.2" fill="#a3062b"/>
<rect x="53.42" y="374.2" width="10.7" height="13.1" fill="#512662"/>
<rect x="53.42" y="364.7" width="10.7" height="9.5" fill="#6cae45"/>
<rect x="79.98" y="389.3" width="10.7" height="125.2" fill="#a3062b"/>
<rect x="79.98" y="374.2" width="10.7" height="15.1" fill="#512662"/>
<rect x="79.98" y="364.7" width="10.7" height="9.5" fill="#6cae45"/>
<rect x="106.53" y="394.4" width="10.7" height="120.1" fill="#a3062b"/>
<rect x="106.53" y="376.8" width="10.7" height="17.6" fill="#512662"/>
<rect x="106.53" y="364.7" width="10.7" height="12.1" fill="#6cae45"/>
<rect x="133.08" y="404.1" width="10.7" height="110.4" fill="#a3062b"/>
<rect x="133.08" y="378.2" width="10.7" height="25.9" fill="#512662"/>
<rect x="133.08" y="364.7" width="10.7" height="13.5" fill="#6cae45"/>
<line x1="58.5" y1="364.7" x2="58.5" y2="369" stroke="#111" stroke-width="1.1"/>
<line x1="57.38" y1="369.5" x2="60.17" y2="369.5" stroke="#111" stroke-width="1.2"/>
<line x1="58.5" y1="374.2" x2="58.5" y2="378" stroke="#111" stroke-width="1.1"/>
<line x1="57.38" y1="378.5" x2="60.17" y2="378.5" stroke="#111" stroke-width="1.2"/>
<line x1="58.5" y1="387.3" x2="58.5" y2="394" stroke="#111" stroke-width="1.1"/>
<line x1="57.38" y1="394.5" x2="60.17" y2="394.5" stroke="#111" stroke-width="1.2"/>
<line x1="85.5" y1="364.7" x2="85.5" y2="367.5" stroke="#111" stroke-width="1.1"/>
<line x1="83.92" y1="367.5" x2="86.73" y2="367.5" stroke="#111" stroke-width="1.2"/>
<line x1="85.5" y1="374.2" x2="85.5" y2="379" stroke="#111" stroke-width="1.1"/>
<line x1="83.92" y1="379.5" x2="86.73" y2="379.5" stroke="#111" stroke-width="1.2"/>
<line x1="85.5" y1="389.3" x2="85.5" y2="395" stroke="#111" stroke-width="1.1"/>
<line x1="83.92" y1="395.5" x2="86.73" y2="395.5" stroke="#111" stroke-width="1.2"/>
<line x1="111.5" y1="364.7" x2="111.5" y2="370.5" stroke="#111" stroke-width="1.1"/>
<line x1="110.47" y1="370.5" x2="113.28" y2="370.5" stroke="#111" stroke-width="1.2"/>
<line x1="111.5" y1="376.8" x2="111.5" y2="382" stroke="#111" stroke-width="1.1"/>
<line x1="110.47" y1="382.5" x2="113.28" y2="382.5" stroke="#111" stroke-width="1.2"/>
<line x1="111.5" y1="394.4" x2="111.5" y2="401" stroke="#111" stroke-width="1.1"/>
<line x1="110.47" y1="401.5" x2="113.28" y2="401.5" stroke="#111" stroke-width="1.2"/>
<line x1="138.5" y1="364.7" x2="138.5" y2="370" stroke="#111" stroke-width="1.1"/>
<line x1="137.03" y1="370.5" x2="139.83" y2="370.5" stroke="#111" stroke-width="1.2"/>
<line x1="138.5" y1="378.2" x2="138.5" y2="382" stroke="#111" stroke-width="1.1"/>
<line x1="137.03" y1="382.5" x2="139.83" y2="382.5" stroke="#111" stroke-width="1.2"/>
<line x1="138.5" y1="404.1" x2="138.5" y2="413" stroke="#111" stroke-width="1.1"/>
<line x1="137.03" y1="413.5" x2="139.83" y2="413.5" stroke="#111" stroke-width="1.2"/>
<line x1="45.5" y1="361.7" x2="45.5" y2="515" stroke="#111" stroke-width="1"/>
<line x1="45" y1="514.5" x2="154.5" y2="514.5" stroke="#111" stroke-width="1"/>
<line x1="42.5" y1="514.5" x2="45.5" y2="514.5" stroke="#111" stroke-width="1"/>
<text x="39.1" y="517.5" font-size="8.8" text-anchor="end">60</text>
<line x1="42.5" y1="476.5" x2="45.5" y2="476.5" stroke="#111" stroke-width="1"/>
<text x="39.1" y="479.93" font-size="8.8" text-anchor="end">70</text>
<line x1="42.5" y1="439.5" x2="45.5" y2="439.5" stroke="#111" stroke-width="1"/>
<text x="39.1" y="442.35" font-size="8.8" text-anchor="end">80</text>
<line x1="42.5" y1="401.5" x2="45.5" y2="401.5" stroke="#111" stroke-width="1"/>
<text x="39.1" y="404.77" font-size="8.8" text-anchor="end">90</text>
<line x1="42.5" y1="364.5" x2="45.5" y2="364.5" stroke="#111" stroke-width="1"/>
<text x="39.1" y="367.2" font-size="8.8" text-anchor="end">100</text>
<line x1="72.5" y1="514.5" x2="72.5" y2="517.5" stroke="#111" stroke-width="1"/>
<line x1="98.5" y1="514.5" x2="98.5" y2="517.5" stroke="#111" stroke-width="1"/>
<line x1="125.5" y1="514.5" x2="125.5" y2="517.5" stroke="#111" stroke-width="1"/>
<line x1="151.5" y1="514.5" x2="151.5" y2="517.5" stroke="#111" stroke-width="1"/>
<text x="67.28" y="523.6" font-size="8.8" text-anchor="end" textLength="16.2" lengthAdjust="spacingAndGlyphs" transform="rotate(-45 67.28 523.6)">Con</text>
<text x="93.83" y="523.6" font-size="8.8" text-anchor="end" textLength="15.6" lengthAdjust="spacingAndGlyphs" transform="rotate(-45 93.83 523.6)">K-/-</text>
<text x="120.38" y="523.6" font-size="8.8" text-anchor="end" textLength="15.6" lengthAdjust="spacingAndGlyphs" transform="rotate(-45 120.38 523.6)">Q/+</text>
<text x="146.93" y="523.6" font-size="8.8" text-anchor="end" textLength="32.4" lengthAdjust="spacingAndGlyphs" transform="rotate(-45 146.93 523.6)">K-/-;Q/+</text>
<text x="19.2" y="438.8" font-size="9.8" text-anchor="middle" textLength="138.4" lengthAdjust="spacingAndGlyphs" transform="rotate(-90 19.2 438.8)">Cell cycle distribution in thymocytes (%)</text>
<line x1="56.2" y1="362.5" x2="113.4" y2="362.5" stroke="#2a2a2a" stroke-width="1.1"/>
<polyline points="85.5,362.5 85.5,356.5 139.5,356.5 139.5,362.5" fill="none" stroke="#2a2a2a" stroke-width="1.1"/>
<text x="93.4" y="351.5" font-size="7.8" textLength="36.8" lengthAdjust="spacingAndGlyphs">G0/1*; S**</text>
<rect x="210.3" y="395.5" width="10.6" height="119" fill="#a3062b"/>
<rect x="210.3" y="369.5" width="10.6" height="26" fill="#512662"/>
<rect x="210.3" y="364.7" width="10.6" height="4.8" fill="#6cae45"/>
<rect x="236.9" y="397.7" width="10.6" height="116.8" fill="#a3062b"/>
<rect x="236.9" y="369.5" width="10.6" height="28.2" fill="#512662"/>
<rect x="236.9" y="364.5" width="10.6" height="5" fill="#6cae45"/>
<rect x="263.5" y="411.2" width="10.6" height="103.3" fill="#a3062b"/>
<rect x="263.5" y="376.9" width="10.6" height="34.3" fill="#512662"/>
<rect x="263.5" y="365.3" width="10.6" height="11.6" fill="#6cae45"/>
<rect x="290.1" y="421.8" width="10.6" height="92.7" fill="#a3062b"/>
<rect x="290.1" y="378" width="10.6" height="43.8" fill="#512662"/>
<rect x="290.1" y="364.7" width="10.6" height="13.3" fill="#6cae45"/>
<line x1="215.5" y1="364.7" x2="215.5" y2="367.4" stroke="#111" stroke-width="1.1"/>
<line x1="214.2" y1="367.5" x2="217" y2="367.5" stroke="#111" stroke-width="1.2"/>
<line x1="215.5" y1="369.5" x2="215.5" y2="378" stroke="#111" stroke-width="1.1"/>
<line x1="214.2" y1="378.5" x2="217" y2="378.5" stroke="#111" stroke-width="1.2"/>
<line x1="215.5" y1="395.5" x2="215.5" y2="404.4" stroke="#111" stroke-width="1.1"/>
<line x1="214.2" y1="404.5" x2="217" y2="404.5" stroke="#111" stroke-width="1.2"/>
<line x1="242.5" y1="364.5" x2="242.5" y2="367" stroke="#111" stroke-width="1.1"/>
<line x1="240.8" y1="367.5" x2="243.6" y2="367.5" stroke="#111" stroke-width="1.2"/>
<line x1="242.5" y1="369.5" x2="242.5" y2="383.3" stroke="#111" stroke-width="1.1"/>
<line x1="240.8" y1="383.5" x2="243.6" y2="383.5" stroke="#111" stroke-width="1.2"/>
<line x1="242.5" y1="397.7" x2="242.5" y2="415" stroke="#111" stroke-width="1.1"/>
<line x1="240.8" y1="415.5" x2="243.6" y2="415.5" stroke="#111" stroke-width="1.2"/>
<line x1="268.5" y1="365.3" x2="268.5" y2="370.6" stroke="#111" stroke-width="1.1"/>
<line x1="267.4" y1="370.5" x2="270.2" y2="370.5" stroke="#111" stroke-width="1.2"/>
<line x1="268.5" y1="376.9" x2="268.5" y2="389.6" stroke="#111" stroke-width="1.1"/>
<line x1="267.4" y1="389.5" x2="270.2" y2="389.5" stroke="#111" stroke-width="1.2"/>
<line x1="268.5" y1="411.2" x2="268.5" y2="427.7" stroke="#111" stroke-width="1.1"/>
<line x1="267.4" y1="427.5" x2="270.2" y2="427.5" stroke="#111" stroke-width="1.2"/>
<line x1="295.5" y1="364.7" x2="295.5" y2="368.5" stroke="#111" stroke-width="1.1"/>
<line x1="294" y1="368.5" x2="296.8" y2="368.5" stroke="#111" stroke-width="1.2"/>
<line x1="295.5" y1="378" x2="295.5" y2="393.8" stroke="#111" stroke-width="1.1"/>
<line x1="294" y1="393.5" x2="296.8" y2="393.5" stroke="#111" stroke-width="1.2"/>
<line x1="295.5" y1="421.8" x2="295.5" y2="441.4" stroke="#111" stroke-width="1.1"/>
<line x1="294" y1="441.5" x2="296.8" y2="441.5" stroke="#111" stroke-width="1.2"/>
<line x1="202.5" y1="361.5" x2="202.5" y2="515" stroke="#111" stroke-width="1"/>
<line x1="201.8" y1="514.5" x2="311.2" y2="514.5" stroke="#111" stroke-width="1"/>
<line x1="199.3" y1="514.5" x2="202.3" y2="514.5" stroke="#111" stroke-width="1"/>
<text x="196" y="517.5" font-size="8.8" text-anchor="end">60</text>
<line x1="199.3" y1="476.5" x2="202.3" y2="476.5" stroke="#111" stroke-width="1"/>
<text x="196" y="479.88" font-size="8.8" text-anchor="end">70</text>
<line x1="199.3" y1="439.5" x2="202.3" y2="439.5" stroke="#111" stroke-width="1"/>
<text x="196" y="442.25" font-size="8.8" text-anchor="end">80</text>
<line x1="199.3" y1="401.5" x2="202.3" y2="401.5" stroke="#111" stroke-width="1"/>
<text x="196" y="404.62" font-size="8.8" text-anchor="end">90</text>
<line x1="199.3" y1="364.5" x2="202.3" y2="364.5" stroke="#111" stroke-width="1"/>
<text x="196" y="367" font-size="8.8" text-anchor="end">100</text>
<line x1="228.5" y1="514.5" x2="228.5" y2="517.5" stroke="#111" stroke-width="1"/>
<line x1="255.5" y1="514.5" x2="255.5" y2="517.5" stroke="#111" stroke-width="1"/>
<line x1="282.5" y1="514.5" x2="282.5" y2="517.5" stroke="#111" stroke-width="1"/>
<line x1="308.5" y1="514.5" x2="308.5" y2="517.5" stroke="#111" stroke-width="1"/>
<text x="224.1" y="523.6" font-size="8.8" text-anchor="end" textLength="16.2" lengthAdjust="spacingAndGlyphs" transform="rotate(-45 224.1 523.6)">Con</text>
<text x="250.7" y="523.6" font-size="8.8" text-anchor="end" textLength="15.6" lengthAdjust="spacingAndGlyphs" transform="rotate(-45 250.7 523.6)">K-/-</text>
<text x="277.3" y="523.6" font-size="8.8" text-anchor="end" textLength="15.6" lengthAdjust="spacingAndGlyphs" transform="rotate(-45 277.3 523.6)">Q/+</text>
<text x="303.9" y="523.6" font-size="8.8" text-anchor="end" textLength="32.4" lengthAdjust="spacingAndGlyphs" transform="rotate(-45 303.9 523.6)">K-/-;Q/+</text>
<text x="176.1" y="439.8" font-size="9.8" text-anchor="middle" textLength="128.4" lengthAdjust="spacingAndGlyphs" transform="rotate(-90 176.1 439.8)">Cell cycle distribution in DN cells (%)</text>
<line x1="214" y1="362.5" x2="242" y2="362.5" stroke="#2a2a2a" stroke-width="1.1"/>
<polyline points="227.5,362.5 227.5,357.5 295.5,357.5 295.5,361.5" fill="none" stroke="#2a2a2a" stroke-width="1.1"/>
<text x="228.6" y="351.9" font-size="7.8" textLength="65" lengthAdjust="spacingAndGlyphs">G0/1*; S*; G2/M**</text>
<rect x="367.25" y="407.9" width="10.6" height="106.2" fill="#a3062b"/>
<rect x="367.25" y="382.5" width="10.6" height="25.4" fill="#512662"/>
<rect x="367.25" y="364.1" width="10.6" height="18.4" fill="#6cae45"/>
<rect x="393.75" y="416.8" width="10.6" height="97.3" fill="#a3062b"/>
<rect x="393.75" y="382.1" width="10.6" height="34.7" fill="#512662"/>
<rect x="393.75" y="363.5" width="10.6" height="18.6" fill="#6cae45"/>
<rect x="420.25" y="456" width="10.6" height="58.1" fill="#a3062b"/>
<rect x="420.25" y="390.5" width="10.6" height="65.5" fill="#512662"/>
<rect x="420.25" y="364.1" width="10.6" height="26.4" fill="#6cae45"/>
<rect x="446.75" y="487.3" width="10.6" height="26.8" fill="#a3062b"/>
<rect x="446.75" y="399.4" width="10.6" height="87.9" fill="#512662"/>
<rect x="446.75" y="363.5" width="10.6" height="35.9" fill="#6cae45"/>
<line x1="372.5" y1="364.1" x2="372.5" y2="374.5" stroke="#111" stroke-width="1.1"/>
<line x1="371.15" y1="374.5" x2="373.95" y2="374.5" stroke="#111" stroke-width="1.2"/>
<line x1="372.5" y1="382.5" x2="372.5" y2="387.8" stroke="#111" stroke-width="1.1"/>
<line x1="371.15" y1="387.5" x2="373.95" y2="387.5" stroke="#111" stroke-width="1.2"/>
<line x1="372.5" y1="407.9" x2="372.5" y2="421" stroke="#111" stroke-width="1.1"/>
<line x1="371.15" y1="421.5" x2="373.95" y2="421.5" stroke="#111" stroke-width="1.2"/>
<line x1="399.5" y1="363.5" x2="399.5" y2="370.9" stroke="#111" stroke-width="1.1"/>
<line x1="397.65" y1="370.5" x2="400.45" y2="370.5" stroke="#111" stroke-width="1.2"/>
<line x1="399.5" y1="382.1" x2="399.5" y2="393" stroke="#111" stroke-width="1.1"/>
<line x1="397.65" y1="393.5" x2="400.45" y2="393.5" stroke="#111" stroke-width="1.2"/>
<line x1="399.5" y1="416.8" x2="399.5" y2="432.2" stroke="#111" stroke-width="1.1"/>
<line x1="397.65" y1="432.5" x2="400.45" y2="432.5" stroke="#111" stroke-width="1.2"/>
<line x1="425.5" y1="364.1" x2="425.5" y2="382.5" stroke="#111" stroke-width="1.1"/>
<line x1="424.15" y1="382.5" x2="426.95" y2="382.5" stroke="#111" stroke-width="1.2"/>
<line x1="425.5" y1="390.5" x2="425.5" y2="407.9" stroke="#111" stroke-width="1.1"/>
<line x1="424.15" y1="407.5" x2="426.95" y2="407.5" stroke="#111" stroke-width="1.2"/>
<line x1="425.5" y1="456" x2="425.5" y2="479.9" stroke="#111" stroke-width="1.1"/>
<line x1="424.15" y1="479.5" x2="426.95" y2="479.5" stroke="#111" stroke-width="1.2"/>
<line x1="452.5" y1="363.5" x2="452.5" y2="384.2" stroke="#111" stroke-width="1.1"/>
<line x1="450.65" y1="384.5" x2="453.45" y2="384.5" stroke="#111" stroke-width="1.2"/>
<line x1="452.5" y1="399.4" x2="452.5" y2="411" stroke="#111" stroke-width="1.1"/>
<line x1="450.65" y1="411.5" x2="453.45" y2="411.5" stroke="#111" stroke-width="1.2"/>
<line x1="452.5" y1="487.3" x2="452.5" y2="511" stroke="#111" stroke-width="1.1"/>
<line x1="450.65" y1="511.5" x2="453.45" y2="511.5" stroke="#111" stroke-width="1.2"/>
<line x1="359.5" y1="360.9" x2="359.5" y2="514.6" stroke="#111" stroke-width="1"/>
<line x1="358.8" y1="514.5" x2="463.5" y2="514.5" stroke="#111" stroke-width="1"/>
<line x1="356.3" y1="514.5" x2="359.3" y2="514.5" stroke="#111" stroke-width="1"/>
<text x="352.9" y="517.1" font-size="8.8" text-anchor="end">60</text>
<line x1="356.3" y1="476.5" x2="359.3" y2="476.5" stroke="#111" stroke-width="1"/>
<text x="352.9" y="479.43" font-size="8.8" text-anchor="end">70</text>
<line x1="356.3" y1="438.5" x2="359.3" y2="438.5" stroke="#111" stroke-width="1"/>
<text x="352.9" y="441.75" font-size="8.8" text-anchor="end">80</text>
<line x1="356.3" y1="401.5" x2="359.3" y2="401.5" stroke="#111" stroke-width="1"/>
<text x="352.9" y="404.07" font-size="8.8" text-anchor="end">90</text>
<line x1="356.3" y1="363.5" x2="359.3" y2="363.5" stroke="#111" stroke-width="1"/>
<text x="352.9" y="366.4" font-size="8.8" text-anchor="end">100</text>
<line x1="385.5" y1="514.1" x2="385.5" y2="517.1" stroke="#111" stroke-width="1"/>
<line x1="412.5" y1="514.1" x2="412.5" y2="517.1" stroke="#111" stroke-width="1"/>
<line x1="438.5" y1="514.1" x2="438.5" y2="517.1" stroke="#111" stroke-width="1"/>
<line x1="465.5" y1="514.1" x2="465.5" y2="517.1" stroke="#111" stroke-width="1"/>
<text x="381.05" y="523.6" font-size="8.8" text-anchor="end" textLength="16.2" lengthAdjust="spacingAndGlyphs" transform="rotate(-45 381.05 523.6)">Con</text>
<text x="407.55" y="523.6" font-size="8.8" text-anchor="end" textLength="15.6" lengthAdjust="spacingAndGlyphs" transform="rotate(-45 407.55 523.6)">K-/-</text>
<text x="434.05" y="523.6" font-size="8.8" text-anchor="end" textLength="15.6" lengthAdjust="spacingAndGlyphs" transform="rotate(-45 434.05 523.6)">Q/+</text>
<text x="460.55" y="523.6" font-size="8.8" text-anchor="end" textLength="32.4" lengthAdjust="spacingAndGlyphs" transform="rotate(-45 460.55 523.6)">K-/-;Q/+</text>
<text x="333.7" y="437.8" font-size="9.8" text-anchor="middle" textLength="136" lengthAdjust="spacingAndGlyphs" transform="rotate(-90 333.7 437.8)">Cell cycle distribution in cKit<tspan dy="-3.6" font-size="6.5">+</tspan><tspan dy="3.6"> cells (%)</tspan></text>
<line x1="368.7" y1="341.5" x2="425.4" y2="341.5" stroke="#2a2a2a" stroke-width="1.1"/>
<polyline points="397.5,341.5 397.5,335.5 450.5,335.5 450.5,364.5" fill="none" stroke="#2a2a2a" stroke-width="1.1"/>
<text x="407.5" y="330.6" font-size="7.8" textLength="33.5" lengthAdjust="spacingAndGlyphs">G0/1*; S*</text>
<line x1="366.2" y1="360.5" x2="407.7" y2="360.5" stroke="#2a2a2a" stroke-width="1.1"/>
<polyline points="386.5,360.5 386.5,355.5 426.5,355.5 426.5,359.5" fill="none" stroke="#2a2a2a" stroke-width="1.1"/>
<text x="387.7" y="351.7" font-size="7.8" textLength="36.9" lengthAdjust="spacingAndGlyphs">G0/1*; S**</text>
<rect x="471.2" y="359.8" width="6.7" height="6" fill="#a3062b"/>
<text x="481.1" y="365.2" font-size="7.9" textLength="16.6" lengthAdjust="spacingAndGlyphs">G0/1</text>
<rect x="471.2" y="371.3" width="6.7" height="6" fill="#512662"/>
<text x="481.1" y="376.9" font-size="7.9" textLength="4.6" lengthAdjust="spacingAndGlyphs">S</text>
<rect x="471.2" y="382.9" width="6.7" height="6" fill="#6cae45"/>
<text x="481.1" y="388.5" font-size="7.9" textLength="20.4" lengthAdjust="spacingAndGlyphs">G2/M</text>
<text x="461.1" y="402" font-size="7.9" textLength="52.2" lengthAdjust="spacingAndGlyphs">(n=5~9/group)</text>
</svg>
</body></html>
